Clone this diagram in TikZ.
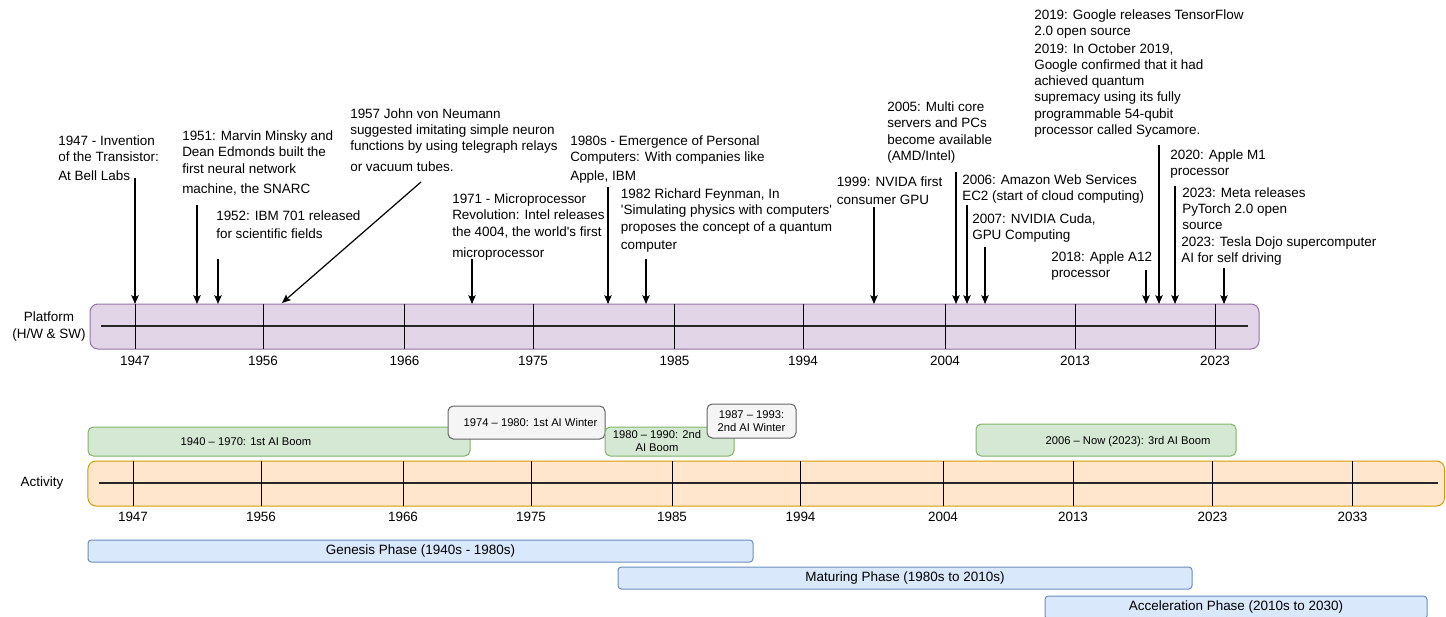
\documentclass[tikz,border=0pt]{standalone}
\usepackage{fontspec}
\setmainfont{Liberation Sans}
\usetikzlibrary{arrows.meta}
\definecolor{platfill}{HTML}{E1D5E7}
\definecolor{platdraw}{HTML}{9673A6}
\definecolor{actfill}{HTML}{FFE6CC}
\definecolor{actdraw}{HTML}{D79B00}
\definecolor{boomfill}{HTML}{D5E8D4}
\definecolor{boomdraw}{HTML}{82B366}
\definecolor{winfill}{HTML}{F5F5F5}
\definecolor{windraw}{HTML}{666666}
\definecolor{phfill}{HTML}{DAE8FC}
\definecolor{phdraw}{HTML}{6C8EBF}
\begin{document}
\begin{tikzpicture}[x=0.75pt,y=-0.75pt,
  ann/.style={anchor=north west,align=left,inner sep=0pt,font=\fontsize{10.1pt}{12.2pt}\selectfont},
  yearlbl/.style={inner sep=0pt,font=\fontsize{10.1pt}{12.2pt}\selectfont},
  sidelbl/.style={inner sep=0pt,align=center,font=\fontsize{10.1pt}{12.2pt}\selectfont},
  smalltxt/.style={inner sep=0pt,align=center,font=\fontsize{8.4pt}{10.2pt}\selectfont},
  bar/.style={rectangle,rounded corners=6pt,line width=0.75pt,inner sep=0pt,outer sep=0pt},
  platbar/.style={bar,fill=platfill,draw=platdraw},
  actbar/.style={bar,fill=actfill,draw=actdraw},
  boombox/.style={rectangle,rounded corners=4pt,line width=0.75pt,inner sep=0pt,outer sep=0pt,fill=boomfill,draw=boomdraw},
  winbox/.style={rectangle,rounded corners=4pt,line width=0.75pt,inner sep=0pt,outer sep=0pt,fill=winfill,draw=windraw,smalltxt},
  phasebar/.style={rectangle,rounded corners=2.5pt,line width=0.75pt,inner sep=0pt,outer sep=0pt,fill=phfill,draw=phdraw,font=\fontsize{10.1pt}{12.2pt}\selectfont},
  tick/.style={line width=0.75pt,black},
  axisline/.style={line width=0.9pt,black!85},
  arr/.style={line width=0.9pt,-{Stealth[length=6.5pt,width=5.5pt,inset=1.2pt]}}
]
\path[fill=white,use as bounding box] (0,0) rectangle (1446,617);

% ---------------- Platform bar ----------------
\node[platbar,minimum width=876.75pt,minimum height=33.75pt] (plat) at (674.5,326.5) {};
\draw[axisline] (101,326) -- (1248,326);
\foreach \x/\yr in {135/1947,263/1956,404.5/1966,533/1975,674.5/1985,803/1994,945/2004,1075/2013,1215/2023}{
  \draw[tick] (\x,304) -- (\x,349);
  \node[yearlbl] at (\x,361) {\yr};
}
\node[sidelbl] (platlbl) at (49,326.5) {Platform\\(H/W \& SW)};

% ---------------- Annotations ----------------
\node[ann] (a1947) at (58,135.5) {1947 - Invention\\of the Transistor:\\[1.5pt]At Bell Labs};
\node[ann] (a1951) at (182,130.7) {1951: Marvin Minsky and\\Dean Edmonds built the\\first neural network\\[3pt]machine, the SNARC};
\node[ann] (a1952) at (216,210) {1952: IBM 701 released\\[2pt]for scientific fields};
\node[ann] (a1957) at (350,108) {1957 John von Neumann\\suggested imitating simple neuron\\functions by using telegraph relays\\[3.5pt]or vacuum tubes.};
\node[ann] (a1971) at (452,193.7) {1971 - Microprocessor\\Revolution: Intel releases\\the 4004, the world\textquotesingle s first\\[3.5pt]microprocessor};
\node[ann] (a1980) at (570,135) {1980s - Emergence of Personal\\Computers: With companies like\\[2pt]Apple, IBM};
\node[ann] (a1982) at (620.7,188.7) {1982 Richard Feynman, In\\\textquotesingle Simulating physics with computers\textquotesingle\\proposes the concept of a quantum\\[1.5pt]computer};
\node[ann] (a1999) at (836.7,176) {1999: NVIDA first\\[2pt]consumer GPU};
\node[ann] (a2005) at (887,101.7) {2005: Multi core\\servers and PCs\\become available\\(AMD/Intel)};
\node[ann] (a2006) at (962,174) {2006: Amazon Web Services\\EC2 (start of cloud computing)};
\node[ann] (a2007) at (972,213) {2007: NVIDIA Cuda,\\GPU Computing};
\node[ann] (a2018) at (1051,251) {2018: Apple A12\\processor};
\node[ann] (a2019a) at (1034,9) {2019: Google releases TensorFlow\\2.0 open source};
\node[ann] (a2019b) at (1034,43) {2019: In October 2019,\\Google confirmed that it had\\achieved quantum\\supremacy using its fully\\programmable 54-qubit\\processor called Sycamore.};
\node[ann] (a2020) at (1170,149.5) {2020: Apple M1\\processor};
\node[ann] (a2023a) at (1182,187) {2023: Meta releases\\PyTorch 2.0 open\\source};
\node[ann] (a2023b) at (1181,236.7) {2023: Tesla Dojo supercomputer\\AI for self driving};

% ---------------- Arrows ----------------
\coordinate (s1947) at (135,178);
\coordinate (s1951) at (197,205);
\coordinate (s1952) at (218,259);
\coordinate (s1957) at (421,182);
\coordinate (e1957) at (282,303);
\coordinate (s1971) at (472,259);
\coordinate (s1980) at (608,187);
\coordinate (s1982) at (646,259);
\coordinate (s1999) at (874,207);
\coordinate (s2005) at (956,172);
\coordinate (s2006) at (967,205);
\coordinate (s2007) at (985,247);
\coordinate (s2018) at (1146,270);
\coordinate (s2019) at (1159,145);
\coordinate (s2020) at (1175,186);
\coordinate (s2023) at (1224,268);
\foreach \s in {s1947,s1951,s1952,s1971,s1980,s1982,s1999,s2005,s2006,s2007,s2018,s2019,s2020,s2023}{
  \draw[arr] (\s) -- (\s |- plat.north);
}
\draw[arr] (s1957) -- (e1957);

% ---------------- Activity bar ----------------
\node[actbar,minimum width=1017.4pt,minimum height=33.75pt] (act) at (766.25,483.5) {};
\draw[axisline] (99,483) -- (1438,483);
\foreach \x/\yr in {133/1947,261/1956,403/1966,531/1975,672/1985,800.5/1994,943/2004,1073/2013,1212.5/2023,1352.5/2033}{
  \draw[tick] (\x,461) -- (\x,506);
  \node[yearlbl] at (\x,517) {\yr};
}
\node[sidelbl] (actlbl) at (42,483.5) {Activity};

% ---------------- AI booms and winters ----------------
\node[boombox,minimum width=286.5pt,minimum height=21.75pt] (boom1) at (279,441.5) {};
\node[smalltxt] (boom1t) at (246,441.5) {1940 -- 1970: 1st AI Boom};
\node[winbox,minimum width=117.75pt,minimum height=24.75pt] (win1) at (526.5,422.5) {\hspace*{6pt}1974 -- 1980: 1st AI Winter};
\node[boombox,minimum width=96.75pt,minimum height=21.75pt] (boom2) at (669.5,441.5) {};
\node[smalltxt] (boom2t) at (657,441) {1980 -- 1990: 2nd\\AI Boom};
\node[winbox,minimum width=66.75pt,minimum height=25.5pt] (win2) at (751.5,421) {1987 -- 1993:\\2nd AI Winter};
\node[boombox,minimum width=195pt,minimum height=24pt] (boom3) at (1106,440) {};
\node[smalltxt] (boom3t) at (1128,441.5) {2006 -- Now (2023): 3rd AI Boom};

% ---------------- Phases ----------------
\node[phasebar,minimum width=498.75pt,minimum height=16.5pt] (genesis) at (420.5,551) {Genesis Phase (1940s - 1980s)};
\node[phasebar,minimum width=430.5pt,minimum height=16.5pt] (maturing) at (905,578) {Maturing Phase (1980s to 2010s)};
\node[phasebar,minimum width=286.5pt,minimum height=17.25pt] (accel) at (1236,607.5) {Acceleration Phase (2010s to 2030)};
\end{tikzpicture}
\end{document}
